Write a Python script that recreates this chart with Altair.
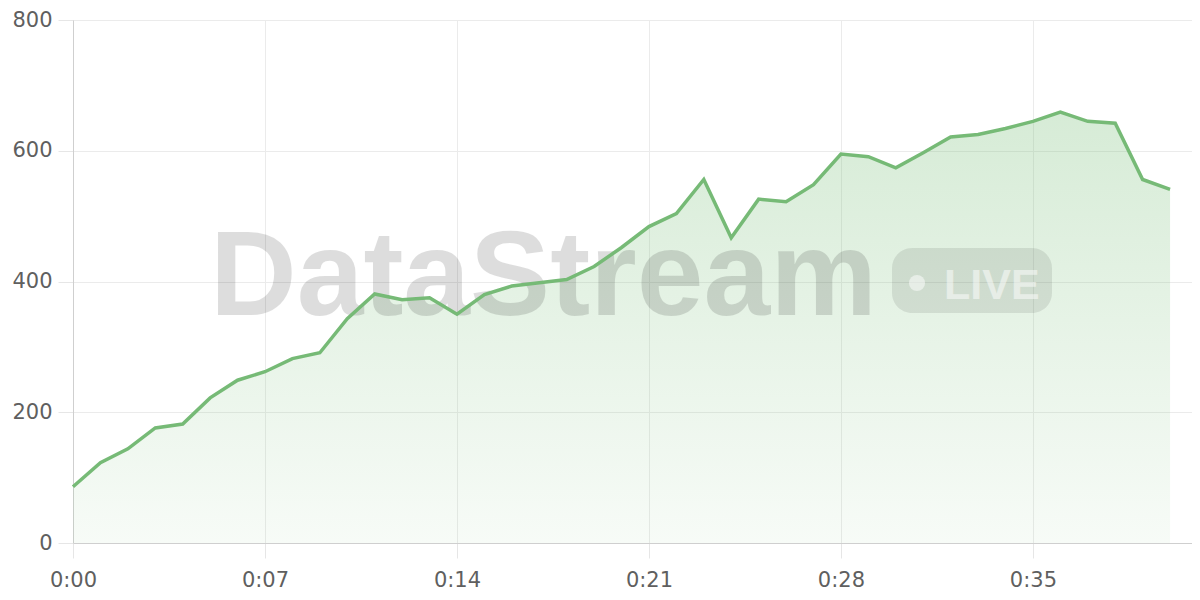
import altair as alt
import pandas as pd

minutes = list(range(41))
values = [86, 123, 144, 176, 182, 222, 249, 262, 282, 291,
          343, 381, 372, 375, 350, 380, 393, 398, 403, 423,
          452, 484, 504, 556, 467, 526, 522, 548, 595, 591,
          574, 597, 621, 625, 634, 645, 659, 645, 642, 556, 541]
x_ticks = [0, 7, 14, 21, 28, 35]
y_ticks = [0, 200, 400, 600, 800]

df = pd.DataFrame({"t": minutes, "v": values})

FONT = "DejaVu Sans"
axis_common = dict(
    title=None,
    tickSize=15,
    tickColor="#e6e6e6",
    domainColor="#cfcfcf",
    gridColor="#ebebeb",
    labelFont=FONT,
    labelFontSize=21,
    labelColor="#5f5f5f",
    labelFlush=False,
)

x_enc = alt.X("t:Q", scale=alt.Scale(domain=[0, 40.8], nice=False),
              axis=alt.Axis(values=x_ticks, labelPadding=11,
                            labelExpr="'0:' + (datum.value < 10 ? '0' : '') + datum.value",
                            **axis_common))
y_enc = alt.Y("v:Q", scale=alt.Scale(domain=[0, 800], nice=False),
              axis=alt.Axis(values=y_ticks, labelPadding=6, **axis_common))

area = alt.Chart(df).mark_area(
    color=alt.Gradient(
        gradient="linear",
        stops=[alt.GradientStop(color="rgba(120,190,120,0.30)", offset=0),
               alt.GradientStop(color="rgba(120,190,120,0.06)", offset=1)],
        x1=1, x2=1, y1=0, y2=1),
    interpolate="linear",
).encode(x=x_enc, y=y_enc)

one = alt.Data(values=[{}])

wm_text = alt.Chart(one).mark_text(
    text="DataStream", font="Liberation Sans", fontWeight="bold", fontSize=120,
    align="left", baseline="alphabetic", color="#000000", opacity=0.13,
).encode(x=alt.value(137), y=alt.value(295))

badge = alt.Chart(one).mark_rect(
    color="#000000", opacity=0.09, cornerRadius=20,
).encode(x=alt.value(819), x2=alt.value(979), y=alt.value(228), y2=alt.value(293))

dot = alt.Chart(one).mark_point(
    filled=True, shape="circle", size=260, color="#ffffff", opacity=0.5,
).encode(x=alt.value(844), y=alt.value(263))

live = alt.Chart(one).mark_text(
    text="LIVE", font="Liberation Sans", fontWeight="bold", fontSize=43,
    align="left", baseline="alphabetic", color="#ffffff", opacity=0.5,
).encode(x=alt.value(871), y=alt.value(279))

line = alt.Chart(df).mark_line(
    color="#76ba76", strokeWidth=3.5, interpolate="linear",
).encode(x=x_enc, y=y_enc)

chart = alt.layer(area, wm_text, badge, dot, live, line).properties(
    width=1119, height=523,
    autosize=alt.AutoSizeParams(type="none"),
    padding={"left": 65, "top": 12, "right": 0, "bottom": 50},
).configure_view(strokeWidth=0).configure(background="#ffffff")

chart.save("out.html", embed_options={"renderer": "svg", "actions": False})
